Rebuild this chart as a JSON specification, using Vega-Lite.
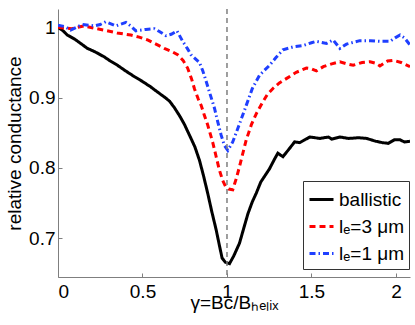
{
  "$schema": "https://vega.github.io/schema/vega-lite/v6.json",
  "autosize": {"type": "none"},
  "padding": {"left": 58, "top": 9, "right": 5, "bottom": 48},
  "width": 352,
  "height": 268,
  "background": "white",
  "config": {
    "view": {"stroke": null},
    "font": "Liberation Sans",
    "axis": {"labelFont": "Liberation Sans", "titleFont": "Liberation Sans", "labelFontSize": 19, "titleFontSize": 19, "labelColor": "#000", "titleColor": "#000", "titleFontWeight": "normal", "domainColor": "#7f7f7f", "tickColor": "#7f7f7f", "grid": false, "domainWidth": 1, "tickWidth": 1},
    "legend": {"labelFont": "Liberation Sans", "labelFontSize": 19, "labelColor": "#000"}
  },
  "datasets": {
    "curves": [
      {"x": 0, "y": 1.0, "series": "ballistic"},
      {"x": 0.03, "y": 0.995, "series": "ballistic"},
      {"x": 0.055, "y": 0.989, "series": "ballistic"},
      {"x": 0.1, "y": 0.983, "series": "ballistic"},
      {"x": 0.174, "y": 0.970, "series": "ballistic"},
      {"x": 0.22, "y": 0.965, "series": "ballistic"},
      {"x": 0.273, "y": 0.958, "series": "ballistic"},
      {"x": 0.31, "y": 0.952, "series": "ballistic"},
      {"x": 0.352, "y": 0.946, "series": "ballistic"},
      {"x": 0.40, "y": 0.938, "series": "ballistic"},
      {"x": 0.451, "y": 0.930, "series": "ballistic"},
      {"x": 0.50, "y": 0.923, "series": "ballistic"},
      {"x": 0.55, "y": 0.915, "series": "ballistic"},
      {"x": 0.60, "y": 0.906, "series": "ballistic"},
      {"x": 0.629, "y": 0.901, "series": "ballistic"},
      {"x": 0.66, "y": 0.895, "series": "ballistic"},
      {"x": 0.688, "y": 0.886, "series": "ballistic"},
      {"x": 0.72, "y": 0.874, "series": "ballistic"},
      {"x": 0.748, "y": 0.862, "series": "ballistic"},
      {"x": 0.787, "y": 0.842, "series": "ballistic"},
      {"x": 0.81, "y": 0.830, "series": "ballistic"},
      {"x": 0.837, "y": 0.811, "series": "ballistic"},
      {"x": 0.86, "y": 0.790, "series": "ballistic"},
      {"x": 0.886, "y": 0.764, "series": "ballistic"},
      {"x": 0.91, "y": 0.738, "series": "ballistic"},
      {"x": 0.936, "y": 0.712, "series": "ballistic"},
      {"x": 0.955, "y": 0.690, "series": "ballistic"},
      {"x": 0.971, "y": 0.672, "series": "ballistic"},
      {"x": 0.99, "y": 0.666, "series": "ballistic"},
      {"x": 1.015, "y": 0.664, "series": "ballistic"},
      {"x": 1.04, "y": 0.675, "series": "ballistic"},
      {"x": 1.074, "y": 0.693, "series": "ballistic"},
      {"x": 1.10, "y": 0.715, "series": "ballistic"},
      {"x": 1.124, "y": 0.735, "series": "ballistic"},
      {"x": 1.15, "y": 0.752, "series": "ballistic"},
      {"x": 1.173, "y": 0.764, "series": "ballistic"},
      {"x": 1.20, "y": 0.780, "series": "ballistic"},
      {"x": 1.252, "y": 0.799, "series": "ballistic"},
      {"x": 1.28, "y": 0.812, "series": "ballistic"},
      {"x": 1.301, "y": 0.821, "series": "ballistic"},
      {"x": 1.331, "y": 0.816, "series": "ballistic"},
      {"x": 1.371, "y": 0.828, "series": "ballistic"},
      {"x": 1.40, "y": 0.837, "series": "ballistic"},
      {"x": 1.43, "y": 0.836, "series": "ballistic"},
      {"x": 1.46, "y": 0.840, "series": "ballistic"},
      {"x": 1.49, "y": 0.844, "series": "ballistic"},
      {"x": 1.55, "y": 0.842, "series": "ballistic"},
      {"x": 1.60, "y": 0.844, "series": "ballistic"},
      {"x": 1.62, "y": 0.841, "series": "ballistic"},
      {"x": 1.668, "y": 0.844, "series": "ballistic"},
      {"x": 1.72, "y": 0.842, "series": "ballistic"},
      {"x": 1.78, "y": 0.843, "series": "ballistic"},
      {"x": 1.826, "y": 0.842, "series": "ballistic"},
      {"x": 1.88, "y": 0.838, "series": "ballistic"},
      {"x": 1.92, "y": 0.836, "series": "ballistic"},
      {"x": 1.954, "y": 0.835, "series": "ballistic"},
      {"x": 1.99, "y": 0.840, "series": "ballistic"},
      {"x": 2.024, "y": 0.840, "series": "ballistic"},
      {"x": 2.05, "y": 0.837, "series": "ballistic"},
      {"x": 2.083, "y": 0.838, "series": "ballistic"},

      {"x": 0, "y": 1.0, "series": "lₑ=3 μm"},
      {"x": 0.08, "y": 0.998, "series": "lₑ=3 μm"},
      {"x": 0.154, "y": 1.002, "series": "lₑ=3 μm"},
      {"x": 0.21, "y": 0.999, "series": "lₑ=3 μm"},
      {"x": 0.273, "y": 0.996, "series": "lₑ=3 μm"},
      {"x": 0.35, "y": 0.992, "series": "lₑ=3 μm"},
      {"x": 0.431, "y": 0.989, "series": "lₑ=3 μm"},
      {"x": 0.48, "y": 0.986, "series": "lₑ=3 μm"},
      {"x": 0.53, "y": 0.982, "series": "lₑ=3 μm"},
      {"x": 0.58, "y": 0.976, "series": "lₑ=3 μm"},
      {"x": 0.629, "y": 0.970, "series": "lₑ=3 μm"},
      {"x": 0.67, "y": 0.966, "series": "lₑ=3 μm"},
      {"x": 0.708, "y": 0.961, "series": "lₑ=3 μm"},
      {"x": 0.74, "y": 0.953, "series": "lₑ=3 μm"},
      {"x": 0.767, "y": 0.942, "series": "lₑ=3 μm"},
      {"x": 0.79, "y": 0.927, "series": "lₑ=3 μm"},
      {"x": 0.807, "y": 0.913, "series": "lₑ=3 μm"},
      {"x": 0.83, "y": 0.898, "series": "lₑ=3 μm"},
      {"x": 0.847, "y": 0.889, "series": "lₑ=3 μm"},
      {"x": 0.866, "y": 0.875, "series": "lₑ=3 μm"},
      {"x": 0.886, "y": 0.861, "series": "lₑ=3 μm"},
      {"x": 0.916, "y": 0.836, "series": "lₑ=3 μm"},
      {"x": 0.935, "y": 0.817, "series": "lₑ=3 μm"},
      {"x": 0.955, "y": 0.797, "series": "lₑ=3 μm"},
      {"x": 0.975, "y": 0.782, "series": "lₑ=3 μm"},
      {"x": 0.991, "y": 0.774, "series": "lₑ=3 μm"},
      {"x": 1.01, "y": 0.770, "series": "lₑ=3 μm"},
      {"x": 1.034, "y": 0.769, "series": "lₑ=3 μm"},
      {"x": 1.055, "y": 0.785, "series": "lₑ=3 μm"},
      {"x": 1.074, "y": 0.802, "series": "lₑ=3 μm"},
      {"x": 1.095, "y": 0.822, "series": "lₑ=3 μm"},
      {"x": 1.114, "y": 0.840, "series": "lₑ=3 μm"},
      {"x": 1.145, "y": 0.862, "series": "lₑ=3 μm"},
      {"x": 1.173, "y": 0.877, "series": "lₑ=3 μm"},
      {"x": 1.21, "y": 0.893, "series": "lₑ=3 μm"},
      {"x": 1.24, "y": 0.905, "series": "lₑ=3 μm"},
      {"x": 1.272, "y": 0.913, "series": "lₑ=3 μm"},
      {"x": 1.31, "y": 0.921, "series": "lₑ=3 μm"},
      {"x": 1.351, "y": 0.927, "series": "lₑ=3 μm"},
      {"x": 1.41, "y": 0.936, "series": "lₑ=3 μm"},
      {"x": 1.47, "y": 0.942, "series": "lₑ=3 μm"},
      {"x": 1.50, "y": 0.941, "series": "lₑ=3 μm"},
      {"x": 1.529, "y": 0.938, "series": "lₑ=3 μm"},
      {"x": 1.57, "y": 0.944, "series": "lₑ=3 μm"},
      {"x": 1.62, "y": 0.948, "series": "lₑ=3 μm"},
      {"x": 1.668, "y": 0.951, "series": "lₑ=3 μm"},
      {"x": 1.71, "y": 0.948, "series": "lₑ=3 μm"},
      {"x": 1.747, "y": 0.946, "series": "lₑ=3 μm"},
      {"x": 1.80, "y": 0.950, "series": "lₑ=3 μm"},
      {"x": 1.846, "y": 0.951, "series": "lₑ=3 μm"},
      {"x": 1.88, "y": 0.949, "series": "lₑ=3 μm"},
      {"x": 1.905, "y": 0.945, "series": "lₑ=3 μm"},
      {"x": 1.95, "y": 0.952, "series": "lₑ=3 μm"},
      {"x": 1.984, "y": 0.953, "series": "lₑ=3 μm"},
      {"x": 2.03, "y": 0.950, "series": "lₑ=3 μm"},
      {"x": 2.083, "y": 0.944, "series": "lₑ=3 μm"},

      {"x": 0, "y": 1.003, "series": "lₑ=1 μm"},
      {"x": 0.04, "y": 1.001, "series": "lₑ=1 μm"},
      {"x": 0.075, "y": 0.996, "series": "lₑ=1 μm"},
      {"x": 0.11, "y": 1.0, "series": "lₑ=1 μm"},
      {"x": 0.144, "y": 1.004, "series": "lₑ=1 μm"},
      {"x": 0.214, "y": 1.002, "series": "lₑ=1 μm"},
      {"x": 0.25, "y": 1.004, "series": "lₑ=1 μm"},
      {"x": 0.283, "y": 1.008, "series": "lₑ=1 μm"},
      {"x": 0.342, "y": 1.002, "series": "lₑ=1 μm"},
      {"x": 0.402, "y": 1.007, "series": "lₑ=1 μm"},
      {"x": 0.43, "y": 1.002, "series": "lₑ=1 μm"},
      {"x": 0.461, "y": 0.995, "series": "lₑ=1 μm"},
      {"x": 0.52, "y": 0.997, "series": "lₑ=1 μm"},
      {"x": 0.570, "y": 0.998, "series": "lₑ=1 μm"},
      {"x": 0.60, "y": 0.994, "series": "lₑ=1 μm"},
      {"x": 0.639, "y": 0.988, "series": "lₑ=1 μm"},
      {"x": 0.67, "y": 0.990, "series": "lₑ=1 μm"},
      {"x": 0.704, "y": 0.995, "series": "lₑ=1 μm"},
      {"x": 0.738, "y": 0.980, "series": "lₑ=1 μm"},
      {"x": 0.765, "y": 0.970, "series": "lₑ=1 μm"},
      {"x": 0.787, "y": 0.961, "series": "lₑ=1 μm"},
      {"x": 0.837, "y": 0.950, "series": "lₑ=1 μm"},
      {"x": 0.857, "y": 0.938, "series": "lₑ=1 μm"},
      {"x": 0.877, "y": 0.923, "series": "lₑ=1 μm"},
      {"x": 0.90, "y": 0.905, "series": "lₑ=1 μm"},
      {"x": 0.926, "y": 0.885, "series": "lₑ=1 μm"},
      {"x": 0.945, "y": 0.866, "series": "lₑ=1 μm"},
      {"x": 0.965, "y": 0.847, "series": "lₑ=1 μm"},
      {"x": 0.985, "y": 0.832, "series": "lₑ=1 μm"},
      {"x": 1.005, "y": 0.825, "series": "lₑ=1 μm"},
      {"x": 1.034, "y": 0.837, "series": "lₑ=1 μm"},
      {"x": 1.07, "y": 0.860, "series": "lₑ=1 μm"},
      {"x": 1.114, "y": 0.889, "series": "lₑ=1 μm"},
      {"x": 1.15, "y": 0.913, "series": "lₑ=1 μm"},
      {"x": 1.193, "y": 0.932, "series": "lₑ=1 μm"},
      {"x": 1.252, "y": 0.946, "series": "lₑ=1 μm"},
      {"x": 1.29, "y": 0.957, "series": "lₑ=1 μm"},
      {"x": 1.331, "y": 0.968, "series": "lₑ=1 μm"},
      {"x": 1.39, "y": 0.972, "series": "lₑ=1 μm"},
      {"x": 1.45, "y": 0.974, "series": "lₑ=1 μm"},
      {"x": 1.50, "y": 0.978, "series": "lₑ=1 μm"},
      {"x": 1.529, "y": 0.980, "series": "lₑ=1 μm"},
      {"x": 1.589, "y": 0.977, "series": "lₑ=1 μm"},
      {"x": 1.628, "y": 0.982, "series": "lₑ=1 μm"},
      {"x": 1.668, "y": 0.970, "series": "lₑ=1 μm"},
      {"x": 1.707, "y": 0.976, "series": "lₑ=1 μm"},
      {"x": 1.786, "y": 0.981, "series": "lₑ=1 μm"},
      {"x": 1.85, "y": 0.981, "series": "lₑ=1 μm"},
      {"x": 1.905, "y": 0.980, "series": "lₑ=1 μm"},
      {"x": 1.964, "y": 0.980, "series": "lₑ=1 μm"},
      {"x": 1.995, "y": 0.985, "series": "lₑ=1 μm"},
      {"x": 2.024, "y": 0.989, "series": "lₑ=1 μm"},
      {"x": 2.05, "y": 0.985, "series": "lₑ=1 μm"},
      {"x": 2.083, "y": 0.975, "series": "lₑ=1 μm"}
    ],
    "marker": [{"x": 1}]
  },
  "layer": [
    {
      "data": {"name": "curves"},
      "mark": {"type": "line", "strokeWidth": 3, "clip": true},
      "encoding": {
        "x": {"field": "x", "type": "quantitative",
          "scale": {"domain": [0, 2.083], "nice": false, "zero": false},
          "axis": {"values": [0, 0.5, 1, 1.5, 2], "format": "~g", "tickSize": -4, "labelPadding": 9,
            "title": "γ=Bᴄ/Bₕₑₗᵢₓ", "titleX": 176, "titleY": 16, "titleBaseline": "top", "titleAlign": "center"}},
        "y": {"field": "y", "type": "quantitative",
          "scale": {"domain": [0.645, 1.026], "nice": false, "zero": false},
          "axis": {"values": [0.7, 0.8, 0.9, 1], "format": "~g", "tickSize": -4, "labelPadding": 7,
            "title": "relative conductance", "titlePadding": 4}},
        "color": {"field": "series", "type": "nominal",
          "scale": {"domain": ["ballistic", "lₑ=3 μm", "lₑ=1 μm"], "range": ["#000000", "#ff0000", "#1f3fff"]},
          "legend": {"title": null, "orient": "none", "legendX": 245, "legendY": 172,
            "symbolType": "stroke", "symbolSize": 576, "symbolStrokeWidth": 3,
            "strokeColor": "#333", "fillColor": "white", "padding": 5, "rowPadding": 3, "labelOffset": 4}},
        "strokeDash": {"field": "series", "type": "nominal",
          "scale": {"domain": ["ballistic", "lₑ=3 μm", "lₑ=1 μm"], "range": [[1, 0], [6, 4], [6, 3, 1.5, 3]]},
          "legend": null},
        "order": {"field": "x", "type": "quantitative"}
      }
    },
    {
      "data": {"name": "marker"},
      "mark": {"type": "rule", "color": "#7f7f7f", "strokeWidth": 1.5, "strokeDash": [5, 4]},
      "encoding": {"x": {"field": "x", "type": "quantitative"}}
    }
  ]
}
